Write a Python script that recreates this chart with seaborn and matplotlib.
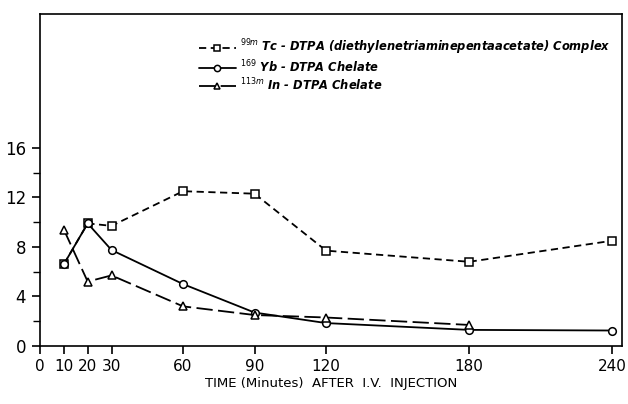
import matplotlib
matplotlib.use("Agg")
import matplotlib.pyplot as plt
import seaborn as sns
import pandas as pd

sns.set_theme(style="ticks")
plt.rcParams['font.family'] = ['DejaVu Sans']
plt.rcParams['text.color'] = 'black'
plt.rcParams['axes.labelcolor'] = 'black'
plt.rcParams['xtick.color'] = 'black'
plt.rcParams['ytick.color'] = 'black'

time_tc = [10, 20, 30, 60, 90, 120, 180, 240]
tc_vals = [6.6, 9.9, 9.7, 12.5, 12.3, 7.7, 6.8, 8.5]
time_yb = [10, 20, 30, 60, 90, 120, 180, 240]
yb_vals = [6.6, 9.9, 7.75, 5.0, 2.7, 1.85, 1.3, 1.25]
time_in = [10, 20, 30, 60, 90, 120, 180]
in_vals = [9.4, 5.2, 5.7, 3.2, 2.5, 2.3, 1.7]

labels = [r"$^{99m}$ Tc - DTPA (diethylenetriaminepentaacetate) Complex",
          r"$^{169}$ Yb - DTPA Chelate",
          r"$^{113m}$ In - DTPA Chelate"]
x_ticks = [0, 10, 20, 30, 60, 90, 120, 180, 240]
y_ticks_major = [0, 4, 8, 12, 16]
y_ticks_minor = [2, 6, 10, 14]
x_label = "TIME (Minutes)  AFTER  I.V.  INJECTION"

fig = plt.figure(figsize=(6.28, 4.04), dpi=100)
ax = fig.add_axes([0.0637, 0.1436, 0.9263, 0.8214])

common = dict(color="black", linewidth=1.3, markersize=5.5,
              markerfacecolor="white", markeredgecolor="black", markeredgewidth=1.1, ax=ax)
sns.lineplot(x=time_tc, y=tc_vals, marker="s", label=labels[0], **common)
ax.lines[-1].set_dashes([4, 2.5])
sns.lineplot(x=time_yb, y=yb_vals, marker="o", label=labels[1], **common)
sns.lineplot(x=time_in, y=in_vals, marker="^", label=labels[2], **common)
ax.lines[-1].set_dashes([9, 3])

ax.set_xlim(0, 244)
ax.set_ylim(0, 26.8)
ax.set_xticks(x_ticks)
ax.set_xticklabels([str(v) for v in x_ticks], fontsize=11)
ax.set_yticks(y_ticks_major)
ax.set_yticklabels([str(v) for v in y_ticks_major], fontsize=12)
ax.set_yticks(y_ticks_minor, minor=True)
ax.tick_params(axis="both", which="major", direction="out", length=6, width=1.2, color="black")
ax.tick_params(axis="y", which="minor", direction="out", length=5, width=1.0, color="black")
ax.tick_params(axis="y", which="major", pad=4)
for s in ax.spines.values():
    s.set_color("black")
    s.set_linewidth(1.2)
ax.set_xlabel(x_label, fontsize=9.5, labelpad=2)
ax.set_ylabel("")

leg = ax.legend(loc="upper left", bbox_to_anchor=(0.255, 0.96), frameon=False,
                handlelength=3.2, handletextpad=0.4, labelspacing=0.12,
                prop={"style": "italic", "weight": "bold", "size": 8.3})
for h in leg.legend_handles:
    h.set_markersize(4.5)

fig.savefig("out.png", dpi=100)
